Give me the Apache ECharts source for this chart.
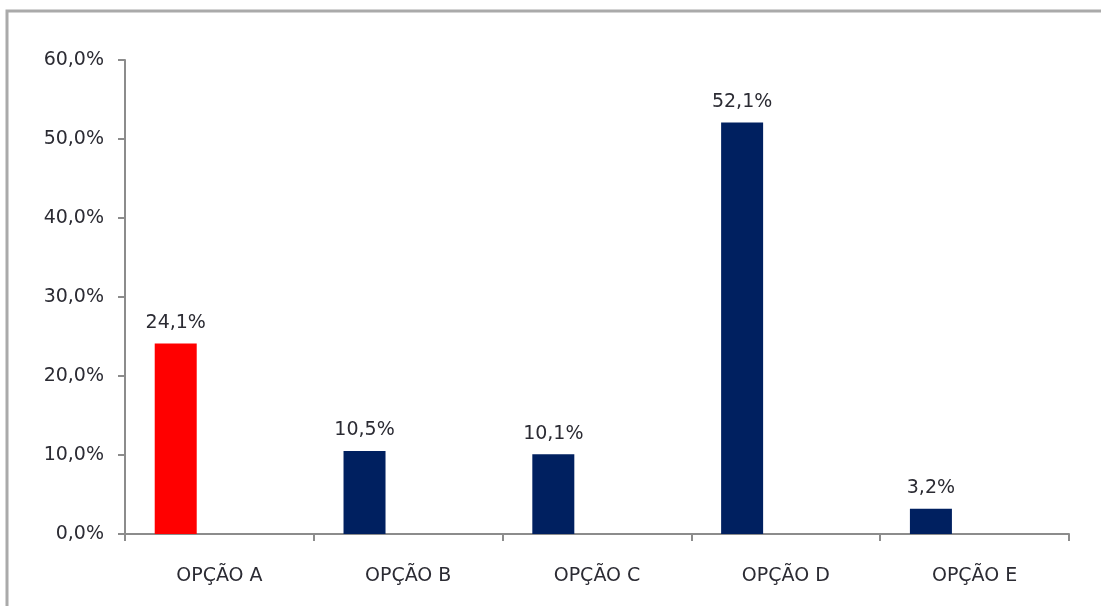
<!DOCTYPE html>
<html>
<head>
<meta charset="utf-8">
<script src="https://cdn.jsdelivr.net/npm/echarts@6/dist/echarts.min.js"></script>
<style>
html,body{margin:0;padding:0;background:#fff;}
#chart{width:1101px;height:606px;}
</style>
</head>
<body>
<div id="chart"></div>
<script>
const categories = ['OPÇÃO A', 'OPÇÃO B', 'OPÇÃO C', 'OPÇÃO D', 'OPÇÃO E'];
const values = [24.1, 10.5, 10.1, 52.1, 3.2];
const barColors = ['#ff0000', '#002060', '#002060', '#002060', '#002060'];
const emptySeries = [null, null, null, null, null];
const yTicks = { min: 0, max: 60, interval: 10 };

const fmt = v => v.toFixed(1).replace('.', ',') + '%';
const FONT = 'DejaVu Sans';
const TXT = '#2b2b33';

const chart = echarts.init(document.getElementById('chart'), null, { renderer: 'canvas' });
chart.setOption({
  animation: false,
  backgroundColor: '#ffffff',
  textStyle: { fontFamily: FONT },
  graphic: [{
    type: 'rect',
    shape: { x: 7, y: 11, width: 1200, height: 700 },
    style: { fill: 'none', stroke: '#aaaaaa', lineWidth: 3 },
    silent: true
  }],
  grid: { left: 125, right: 32, top: 60, bottom: 72, containLabel: false },
  xAxis: {
    type: 'category',
    data: categories,
    boundaryGap: true,
    axisLine: { lineStyle: { color: '#8c8c8c', width: 2 } },
    axisTick: { show: true, length: 7, alignWithLabel: false, lineStyle: { color: '#8c8c8c', width: 2 } },
    axisLabel: { color: TXT, fontSize: 19, fontFamily: FONT, margin: 33 }
  },
  yAxis: {
    type: 'value',
    min: yTicks.min, max: yTicks.max, interval: yTicks.interval,
    axisLine: { show: true, lineStyle: { color: '#8c8c8c', width: 2 } },
    axisTick: { show: true, length: 7, lineStyle: { color: '#8c8c8c', width: 2 } },
    splitLine: { show: false },
    axisLabel: { color: TXT, fontSize: 19, fontFamily: FONT, margin: 21, formatter: v => fmt(v) }
  },
  series: [{
    type: 'bar',
    data: values.map((v, i) => ({ value: v, itemStyle: { color: barColors[i] } })),
    barWidth: 42,
    barGap: '108%',
    label: {
      show: true, position: 'top', distance: 11,
      color: TXT, fontSize: 19, fontFamily: FONT,
      formatter: p => fmt(p.value)
    }
  }, {
    type: 'bar',
    data: emptySeries,
    barWidth: 42
  }]
});
</script>
</body>
</html>
